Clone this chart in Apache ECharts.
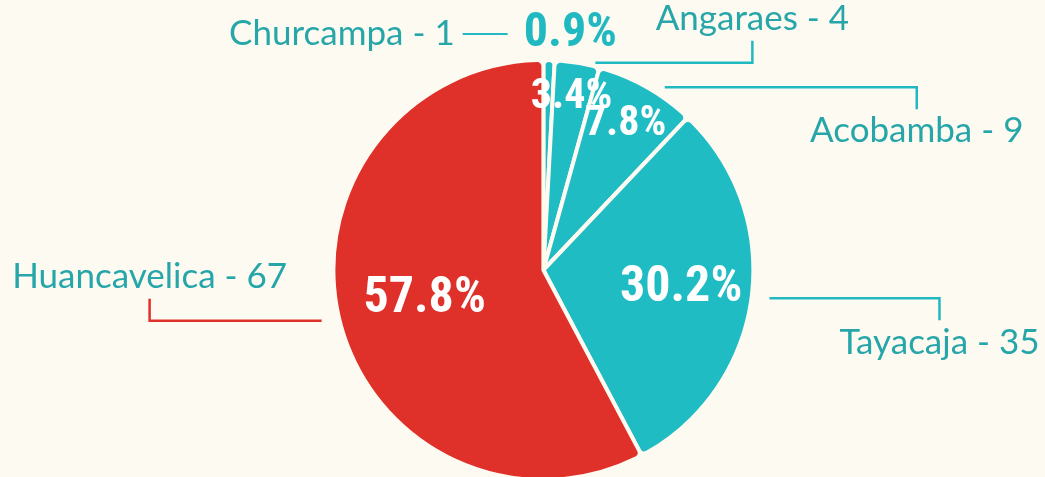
<!DOCTYPE html>
<html>
<head>
<meta charset="utf-8">
<script src="https://cdn.jsdelivr.net/npm/echarts@6/dist/echarts.min.js"></script>
<style>
  html, body { margin: 0; padding: 0; background: #fdfaf1; }
  #chart { width: 1045px; height: 477px; }
</style>
</head>
<body>
<div id="chart"></div>
<script>
// data
const provinces = ['Churcampa', 'Angaraes', 'Acobamba', 'Tayacaja', 'Huancavelica'];
const counts = [1, 4, 9, 35, 67];

const TEAL = '#20bcc4';
const TEAL_TEXT = '#27a6aa';
const TEAL_LINE = '#20b9c1';
const RED = '#e0302a';
const BG = '#fdfaf1';
const condensed = "'Roboto Condensed', 'Open Sans', sans-serif";
const textFont = "Lato, 'Noto Sans', sans-serif";

const total = counts.reduce((a, b) => a + b, 0);
const pct = v => (v / total * 100).toFixed(1) + '%';

// leader lines: sideways run and which way the end tick points
const elbow = {
  Angaraes: { run: 175, dir: -1 },
  Acobamba: { run: 270, dir: 1 },
  Tayacaja: { run: 188, dir: 1 },
  Huancavelica: { run: 190, dir: -1 }
};

const chart = echarts.init(document.getElementById('chart'));

const CENTER = ['52%', 270];
const RADIUS = 210;

function centerPx() {
  return [chart.getWidth() * 0.52, 270];
}

let option = {
  backgroundColor: BG,
  animation: false,
  series: [
    {
      // coloured slices + percentages inside
      type: 'pie',
      center: CENTER,
      radius: RADIUS,
      startAngle: 90,
      clockwise: true,
      silent: true,
      itemStyle: {
        borderColor: BG,
        borderWidth: 4,
        borderRadius: 6
      },
      label: {
        show: true,
        position: 'inside',
        color: '#fff',
        fontFamily: condensed,
        fontWeight: 'bold',
        fontSize: 50,
        formatter: p => pct(p.value)
      },
      labelLine: { show: false },
      labelLayout: function (p) {
        const c = centerPx();
        const lx = p.labelRect.x + p.labelRect.width / 2;
        const ly = p.labelRect.y + p.labelRect.height / 2;
        const dx = lx - c[0], dy = ly - c[1];
        const d = Math.sqrt(dx * dx + dy * dy) || 1;
        const share = counts[p.dataIndex] / total;
        const target = RADIUS * (0.56 + 0.3 * Math.pow(1 - share, 3));
        return {
          x: c[0] + dx / d * target,
          y: c[1] + dy / d * target,
          align: 'center',
          verticalAlign: 'middle'
        };
      },
      data: provinces.map((n, i) => ({
        name: n,
        value: counts[i],
        itemStyle: { color: n === 'Huancavelica' ? RED : TEAL },
        label: {
          show: i !== 0,
          fontSize: counts[i] / total > 0.2 ? 50 : 42
        }
      }))
    },
    {
      // invisible copy carrying the outside names and leaders
      type: 'pie',
      center: CENTER,
      radius: RADIUS,
      startAngle: 90,
      clockwise: true,
      silent: true,
      avoidLabelOverlap: false,
      itemStyle: { color: 'rgba(0,0,0,0)', borderWidth: 0 },
      label: {
        show: true,
        position: 'outside',
        color: TEAL_TEXT,
        fontFamily: textFont,
        fontSize: 35,
        formatter: p => p.name + ' - ' + p.value,
        rich: {
          n: { fontFamily: textFont, fontSize: 35, color: TEAL_TEXT },
          s1: { width: 8 },
          d: { width: 45, height: 2, backgroundColor: TEAL_LINE },
          s2: { width: 16 },
          p: { fontFamily: condensed, fontWeight: 'bold', fontSize: 48, color: TEAL_LINE }
        }
      },
      labelLine: {
        show: true,
        length: 20,
        length2: 20,
        lineStyle: { color: TEAL_LINE, width: 2.5 }
      },
      labelLayout: function (p) {
        const name = provinces[p.dataIndex];
        const c = centerPx();
        if (p.dataIndex === 0) {
          return {
            x: p.rect.x + p.rect.width + 62,
            y: p.rect.y - 26,
            align: 'right',
            verticalAlign: 'middle'
          };
        }
        const start = p.labelLinePoints[0];
        const s = start[0] > c[0] ? 1 : -1;
        const e = elbow[name];
        const tx = start[0] + s * e.run;
        const tickEnd = start[1] + e.dir * 22;
        return {
          x: tx,
          y: tickEnd + e.dir * 22,
          align: 'center',
          verticalAlign: 'middle',
          labelLinePoints: [
            [start[0] + s * 18, start[1]],
            [tx, start[1]],
            [tx, tickEnd]
          ]
        };
      },
      data: provinces.map((n, i) => {
        const item = { name: n, value: counts[i] };
        if (i === 0) {
          item.label = {
            formatter: p => '{n|' + p.name + ' - ' + p.value + '}{s1|}{d|}{s2|}{p|' + pct(p.value) + '}'
          };
          item.labelLine = { show: false };
        }
        if (n === 'Huancavelica') {
          item.labelLine = { lineStyle: { color: RED } };
        }
        return item;
      })
    }
  ]
};

chart.setOption(option);
</script>
</body>
</html>
